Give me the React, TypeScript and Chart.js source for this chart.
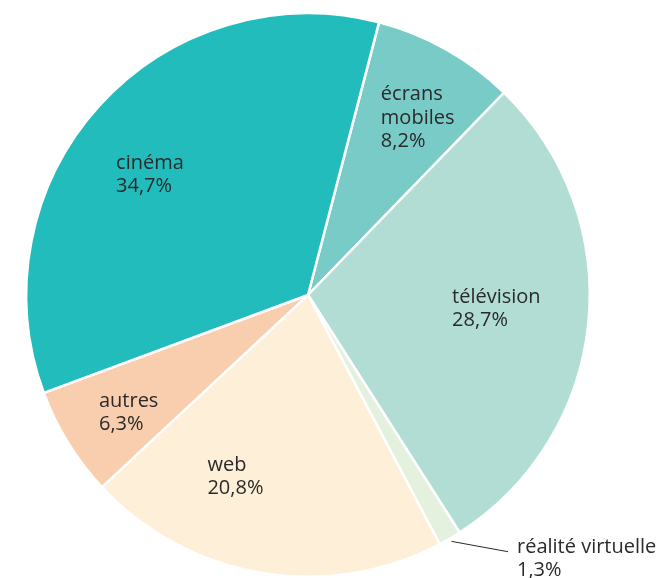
import React, { useEffect, useRef } from "react";
import { Chart, registerables } from "chart.js";

Chart.register(...registerables);

const categories = ["écrans mobiles", "télévision", "réalité virtuelle", "web", "autres", "cinéma"];
const values = [8.2, 28.7, 1.3, 20.8, 6.3, 34.7];
const valueLabels = ["8,2%", "28,7%", "1,3%", "20,8%", "6,3%", "34,7%"];
const nameLines = [["écrans", "mobiles"], ["télévision"], ["réalité virtuelle"], ["web"], ["autres"], ["cinéma"]];
const colors = ["#79CBC7", "#B1DDD4", "#E3F1DE", "#FDEFD8", "#F9CEAE", "#22BCBC"];

// label anchor (left edge, first baseline): angle offset (deg) from slice mid, radius fraction
const labelPlace = [
  { dAng: -8.85, rf: 0.738, out: false },
  { dAng: -2.65, rf: 0.512, out: false },
  { dAng: 0, rf: 1.0, out: true },
  { dAng: 20.25, rf: 0.718, out: false },
  { dAng: 3.45, rf: 0.842, out: false },
  { dAng: -8.85, rf: 0.815, out: false },
];

const FONT = '500 20px "Open Sans", sans-serif';
const LINE_H = 23.3;

const labelPlugin = {
  id: "sliceLabels",
  afterDatasetsDraw(chart: any) {
    const ctx = chart.ctx;
    const meta = chart.getDatasetMeta(0);
    ctx.save();
    ctx.font = FONT;
    ctx.fillStyle = "#2a2a2a";
    ctx.textBaseline = "alphabetic";
    ctx.textAlign = "left";
    meta.data.forEach((arc: any, i: number) => {
      const p = arc.getProps(["x", "y", "startAngle", "endAngle", "outerRadius"], true);
      const lines = [...nameLines[i], valueLabels[i]];
      const place = labelPlace[i];
      const mid = (p.startAngle + p.endAngle) / 2 + (place.dAng * Math.PI) / 180;
      if (place.out) {
        const a1 = mid;
        const r1 = p.outerRadius * 1.012;
        const x1 = p.x + Math.cos(a1) * r1;
        const y1 = p.y + Math.sin(a1) * r1;
        const a2 = mid - (7.7 * Math.PI) / 180;
        const r2 = p.outerRadius * 1.155;
        const x2 = p.x + Math.cos(a2) * r2;
        const y2 = p.y + Math.sin(a2) * r2;
        ctx.strokeStyle = "#2a2a2a";
        ctx.lineWidth = 1;
        ctx.beginPath();
        ctx.moveTo(x1, y1);
        ctx.lineTo(x2, y2);
        ctx.stroke();
        const tx = x2 + 9;
        const ty = y2 + 1;
        lines.forEach((l, k) => ctx.fillText(l, tx, ty + k * LINE_H));
        return;
      }
      const x = p.x + Math.cos(mid) * p.outerRadius * place.rf;
      const y = p.y + Math.sin(mid) * p.outerRadius * place.rf;
      lines.forEach((l, k) => ctx.fillText(l, x, y + k * LINE_H));
    });
    ctx.restore();
  },
};

export default function App() {
  const ref = useRef<HTMLCanvasElement | null>(null);
  useEffect(() => {
    if (!ref.current) return;
    const chart = new Chart(ref.current, {
      type: "pie",
      data: {
        labels: categories,
        datasets: [
          {
            data: values,
            backgroundColor: colors,
            borderColor: "#ffffff",
            borderWidth: 2.5,
          },
        ],
      },
      options: {
        animation: false,
        responsive: false,
        rotation: 14.6,
        layout: { padding: { left: 25, right: 74, top: 12, bottom: 0 } },
        plugins: { legend: { display: false }, tooltip: { enabled: false } },
      },
      plugins: [labelPlugin],
    });
    return () => chart.destroy();
  }, []);
  return (
    <div style={{ position: "fixed", left: 0, top: 0, width: 665, height: 578, background: "#fff" }}>
      <canvas ref={ref} width={665} height={578} style={{ width: 665, height: 578 }} />
    </div>
  );
}
